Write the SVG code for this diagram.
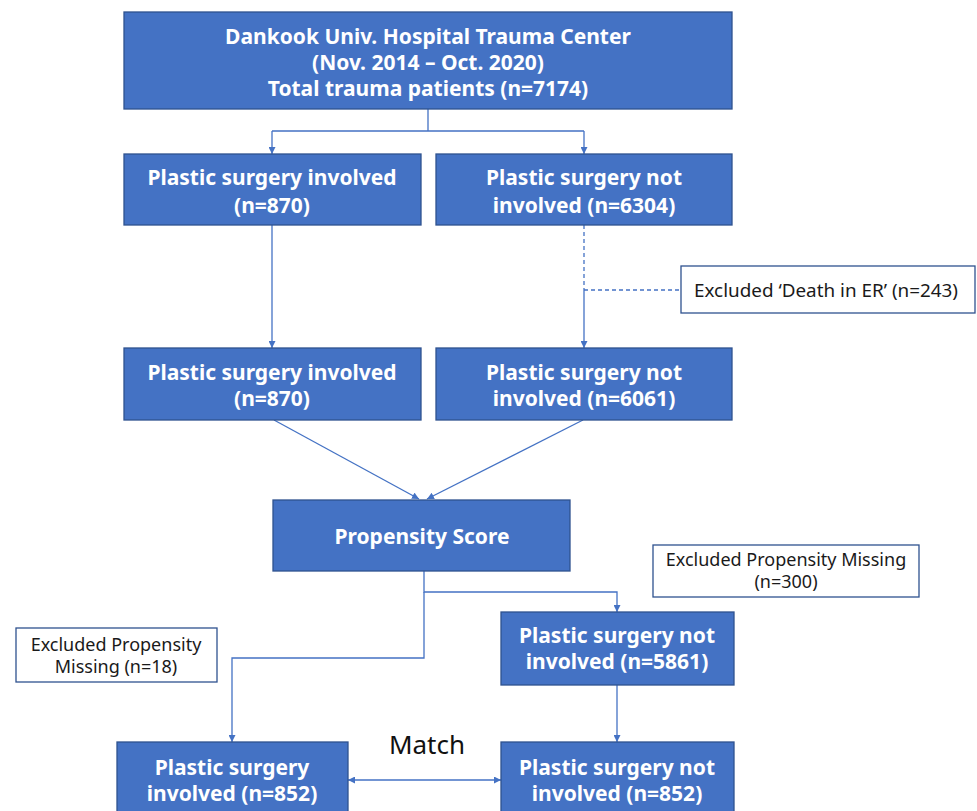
<svg xmlns="http://www.w3.org/2000/svg" width="977" height="811" viewBox="0 0 977 811">
<defs>
<style>
.box{fill:#4472C4;stroke:#2F528F;stroke-width:1.3}
.ex{fill:#fff;stroke:#2F528F;stroke-width:1.3}
.bt{font-family:"Noto Sans","Open Sans",sans-serif;font-weight:bold;font-size:21px;fill:#fff;text-anchor:middle}
.et{font-family:"Noto Sans","Open Sans",sans-serif;font-size:18px;fill:#1a1a1a;text-anchor:middle}
.ln{fill:none;stroke:#4472C4;stroke-width:1.3}
</style>
<marker id="ah" viewBox="0 0 10 10" refX="10" refY="5" markerWidth="7" markerHeight="7" orient="auto-start-reverse" markerUnits="userSpaceOnUse">
<path d="M0,0 L10,5 L0,10 z" fill="#4472C4"/>
</marker>
</defs>
<g id="connectors">
<path class="ln" d="M428,109 V131 M272,131 H584"/>
<path class="ln" d="M272,131 V154" marker-end="url(#ah)"/>
<path class="ln" d="M584,131 V154" marker-end="url(#ah)"/>
<path class="ln" d="M272,225 V348" marker-end="url(#ah)"/>
<path class="ln" d="M584,225 V290" stroke-dasharray="4,3"/>
<path class="ln" d="M584,290 V348" marker-end="url(#ah)"/>
<path class="ln" d="M584,290 H681" stroke-dasharray="4,3"/>
<path class="ln" d="M274,420 L419,499" marker-end="url(#ah)"/>
<path class="ln" d="M583,420 L427,499" marker-end="url(#ah)"/>
<path class="ln" d="M424,571 V592 H617 V612" marker-end="url(#ah)"/>
<path class="ln" d="M424,592 V658 H232 V742" marker-end="url(#ah)"/>
<path class="ln" d="M617,685 V742" marker-end="url(#ah)"/>
<path class="ln" d="M348,780 H501" marker-start="url(#ah)" marker-end="url(#ah)"/>
</g>
<g id="n-top">
<rect class="box" x="124" y="12" width="608" height="97"/>
<text class="bt" x="428" y="44">Dankook Univ. Hospital Trauma Center</text>
<text class="bt" x="428" y="70">(Nov. 2014 – Oct. 2020)</text>
<text class="bt" x="428" y="96">Total trauma patients (n=7174)</text>
</g>
<g id="n-ps1">
<rect class="box" x="124" y="154" width="297" height="71"/>
<text class="bt" x="272" y="185">Plastic surgery involved</text>
<text class="bt" x="272" y="213">(n=870)</text>
</g>
<g id="n-nps1">
<rect class="box" x="436" y="154" width="296" height="71"/>
<text class="bt" x="584" y="185">Plastic surgery not</text>
<text class="bt" x="584" y="213">involved (n=6304)</text>
</g>
<g id="n-ex-er">
<rect class="ex" x="681" y="266" width="294" height="47"/>
<text class="et" x="826" y="297" textLength="264" lengthAdjust="spacingAndGlyphs">Excluded ‘Death in ER’ (n=243)</text>
</g>
<g id="n-ps2">
<rect class="box" x="124" y="348" width="297" height="72"/>
<text class="bt" x="272" y="380">Plastic surgery involved</text>
<text class="bt" x="272" y="406">(n=870)</text>
</g>
<g id="n-nps2">
<rect class="box" x="436" y="348" width="296" height="72"/>
<text class="bt" x="584" y="380">Plastic surgery not</text>
<text class="bt" x="584" y="406">involved (n=6061)</text>
</g>
<g id="n-score">
<rect class="box" x="273" y="500" width="297" height="71"/>
<text class="bt" x="422" y="544">Propensity Score</text>
</g>
<g id="n-ex-300">
<rect class="ex" x="653" y="545" width="266" height="52"/>
<text class="et" x="786" y="566">Excluded Propensity Missing</text>
<text class="et" x="786" y="588">(n=300)</text>
</g>
<g id="n-nps3">
<rect class="box" x="501" y="612" width="233" height="73"/>
<text class="bt" x="617" y="643">Plastic surgery not</text>
<text class="bt" x="617" y="669">involved (n=5861)</text>
</g>
<g id="n-ex-18">
<rect class="ex" x="16" y="628" width="201" height="54"/>
<text class="et" x="116" y="651">Excluded Propensity</text>
<text class="et" x="116" y="673">Missing (n=18)</text>
</g>
<g id="n-ps4">
<rect class="box" x="117" y="742" width="231" height="75"/>
<text class="bt" x="232" y="775">Plastic surgery</text>
<text class="bt" x="232" y="801">involved (n=852)</text>
</g>
<g id="n-nps4">
<rect class="box" x="501" y="742" width="233" height="75"/>
<text class="bt" x="617" y="775">Plastic surgery not</text>
<text class="bt" x="617" y="801">involved (n=852)</text>
</g>
<g id="match">
<text x="427" y="754" style="font-family:'Noto Sans','Open Sans',sans-serif;font-size:26px;fill:#111;text-anchor:middle">Match</text>
</g>
</svg>
